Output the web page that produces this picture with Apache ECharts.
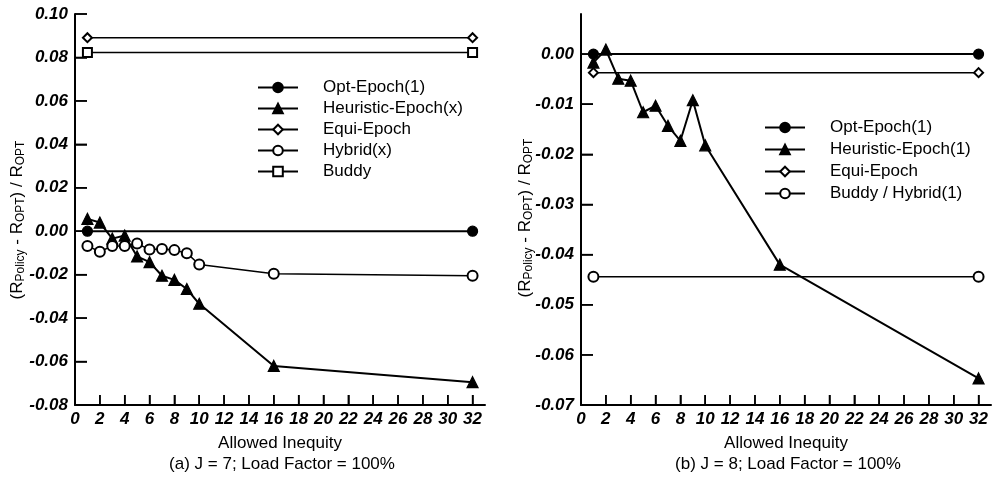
<!DOCTYPE html>
<html>
<head>
<meta charset="utf-8">
<script src="https://cdn.jsdelivr.net/npm/echarts@6/dist/echarts.min.js"></script>
<style>
  html, body { margin: 0; padding: 0; background: #fff; }
  #chart { width: 993px; height: 484px; }
</style>
</head>
<body>
<div id="chart"></div>
<script>
// x positions (allowed inequity)
const xsFull = [1, 2, 3, 4, 5, 6, 7, 8, 9, 10, 16, 32];
const xsEnds = [1, 32];
const xTicks = [0, 2, 4, 6, 8, 10, 12, 14, 16, 18, 20, 22, 24, 26, 28, 30, 32];

// (a) J = 7
const optA = [0, 0];
const heurA = [0.0057, 0.004, -0.0034, -0.002, -0.0116, -0.0142, -0.0205, -0.0224, -0.0266, -0.0334, -0.062, -0.0695];
const equiA = [0.0891, 0.0891];
const hybridA = [-0.0068, -0.0094, -0.0068, -0.0068, -0.0057, -0.0084, -0.0082, -0.0087, -0.0101, -0.0153, -0.0196, -0.0205];
const buddyA = [0.0823, 0.0823];
const yTicksA = [-0.08, -0.06, -0.04, -0.02, 0, 0.02, 0.04, 0.06, 0.08, 0.10];

// (b) J = 8
const optB = [0, 0];
const heurB = [-0.0017, 0.0009, -0.0049, -0.0053, -0.0116, -0.0103, -0.0143, -0.0173, -0.0092, -0.0182, -0.042, -0.0647];
const equiB = [-0.0037, -0.0037];
const buddyB = [-0.0444, -0.0444];
const yTicksB = [-0.07, -0.06, -0.05, -0.04, -0.03, -0.02, -0.01, 0];

const FONT = 'Liberation Sans, Arial, sans-serif';
const pairs = (xs, ys) => xs.map((x, i) => [x, ys[i]]);

const chart = echarts.init(document.getElementById('chart'));

function xAxisFor(idx) {
  return {
    gridIndex: idx, type: 'value', min: 0, max: 33, interval: 2,
    name: 'Allowed Inequity', nameLocation: 'middle', nameGap: 30,
    nameTextStyle: { fontFamily: FONT, fontSize: 17, color: '#000' },
    axisLine: { show: true, onZero: false, lineStyle: { color: '#000', width: 2 } },
    axisTick: { show: true, inside: true, length: 10, customValues: xTicks, lineStyle: { color: '#000', width: 1.5 } },
    axisLabel: {
      customValues: xTicks, margin: 6, color: '#000',
      fontFamily: FONT, fontSize: 17, fontWeight: 'bold', fontStyle: 'italic'
    },
    splitLine: { show: false }
  };
}

function yAxisFor(idx, min, max, interval, ticks) {
  return {
    gridIndex: idx, type: 'value', min: min, max: max, interval: interval,
    axisLine: { show: true, onZero: false, lineStyle: { color: '#000', width: 2 } },
    axisTick: { show: true, inside: true, length: 12, customValues: ticks, lineStyle: { color: '#000', width: 1.5 } },
    axisLabel: {
      customValues: ticks, margin: 7, color: '#000',
      fontFamily: FONT, fontSize: 17, fontWeight: 'bold', fontStyle: 'italic',
      formatter: v => v.toFixed(2)
    },
    splitLine: { show: false }
  };
}

function line(name, idx, data, symbol, size, width) {
  return {
    name: name, type: 'line', xAxisIndex: idx, yAxisIndex: idx,
    data: data, symbol: symbol, symbolSize: size, showAllSymbol: true,
    lineStyle: { color: '#000', width: width },
    itemStyle: { color: '#000', borderColor: '#000', borderWidth: 1.2 }
  };
}

const legendBase = {
  orient: 'vertical', itemWidth: 40, itemHeight: 12, itemGap: 4, padding: 0,
  textStyle: { fontFamily: FONT, fontSize: 17, color: '#000', lineHeight: 17, padding: [0, 0, 0, 20] },
  selectedMode: false
};

// y titles and captions as plain graphic text
const yTitle = '{m|(R}{s|Policy}{m| - R}{s|OPT}{m|) / R}{s|OPT}';
const yRich = {
  m: { fontFamily: FONT, fontSize: 17, lineHeight: 19, fill: '#000', color: '#000' },
  s: { fontFamily: FONT, fontSize: 12, lineHeight: 8, verticalAlign: 'bottom', fill: '#000', color: '#000' }
};
const texts = [
  { id: 'yA', type: 'text', x: 17, y: 220, rotation: Math.PI / 2,
    style: { text: yTitle, rich: yRich, align: 'center', verticalAlign: 'middle', fill: '#000' } },
  { id: 'yB', type: 'text', x: 525, y: 218, rotation: Math.PI / 2,
    style: { text: yTitle, rich: yRich, align: 'center', verticalAlign: 'middle', fill: '#000' } },
  { id: 'capA', type: 'text', x: 282, y: 464,
    style: { text: '(a) J = 7; Load Factor = 100%', fontFamily: FONT, fontSize: 17, fill: '#000', align: 'center', verticalAlign: 'middle' } },
  { id: 'capB', type: 'text', x: 788, y: 464,
    style: { text: '(b) J = 8; Load Factor = 100%', fontFamily: FONT, fontSize: 17, fill: '#000', align: 'center', verticalAlign: 'middle' } }
];

const option = {
  animation: false,
  grid: [
    { left: 75, top: 14, width: 410, height: 391 },
    { left: 581, top: 14, width: 410, height: 391 }
  ],
  xAxis: [xAxisFor(0), xAxisFor(1)],
  yAxis: [
    yAxisFor(0, -0.08, 0.10, 0.02, yTicksA),
    yAxisFor(1, -0.07, 0.008, 0.01, yTicksB)
  ],
  legend: [
    Object.assign({}, legendBase, {
      left: 257, top: 79,
      data: ['Opt-Epoch(1)', 'Heuristic-Epoch(x)', 'Equi-Epoch', 'Hybrid(x)', 'Buddy']
    }),
    Object.assign({}, legendBase, {
      left: 764, top: 119, itemGap: 5,
      data: ['Opt-Epoch(1)', 'Heuristic-Epoch(1)', 'Equi-Epoch', 'Buddy / Hybrid(1)']
    })
  ],
  series: [
    line('Opt-Epoch(1)', 0, pairs(xsEnds, optA), 'circle', 10, 2),
    line('Heuristic-Epoch(x)', 0, pairs(xsFull, heurA), 'triangle', 11, 2),
    line('Equi-Epoch', 0, pairs(xsEnds, equiA), 'emptyDiamond', 9, 1.5),
    line('Hybrid(x)', 0, pairs(xsFull, hybridA), 'emptyCircle', 10, 1.5),
    line('Buddy', 0, pairs(xsEnds, buddyA), 'emptyRect', 9, 1.5),
    line('Opt-Epoch(1)', 1, pairs(xsEnds, optB), 'circle', 10, 2),
    line('Heuristic-Epoch(1)', 1, pairs(xsFull, heurB), 'triangle', 11, 2),
    line('Equi-Epoch', 1, pairs(xsEnds, equiB), 'emptyDiamond', 9, 1.5),
    line('Buddy / Hybrid(1)', 1, pairs(xsEnds, buddyB), 'emptyCircle', 10, 1.5)
  ],
  graphic: texts
};

chart.setOption(option);

// backup inward tick marks, placed through each grid's own scales
function tickLines(gridIdx, yTicks, yMin) {
  const out = [];
  xTicks.forEach(v => {
    const p = chart.convertToPixel({ gridIndex: gridIdx }, [v, yMin]);
    out.push({ type: 'line', silent: true, z: 100,
      shape: { x1: p[0], y1: p[1], x2: p[0], y2: p[1] - 10 },
      style: { stroke: '#000', lineWidth: 1.5 } });
  });
  yTicks.forEach(v => {
    const p = chart.convertToPixel({ gridIndex: gridIdx }, [0, v]);
    out.push({ type: 'line', silent: true, z: 100,
      shape: { x1: p[0], y1: p[1], x2: p[0] + 12, y2: p[1] },
      style: { stroke: '#000', lineWidth: 1.5 } });
  });
  return out;
}

try {
  chart.setOption({
    graphic: texts.concat(tickLines(0, yTicksA, -0.08), tickLines(1, yTicksB, -0.07))
  });
} catch (e) {
  console.error(e);
}
</script>
</body>
</html>
